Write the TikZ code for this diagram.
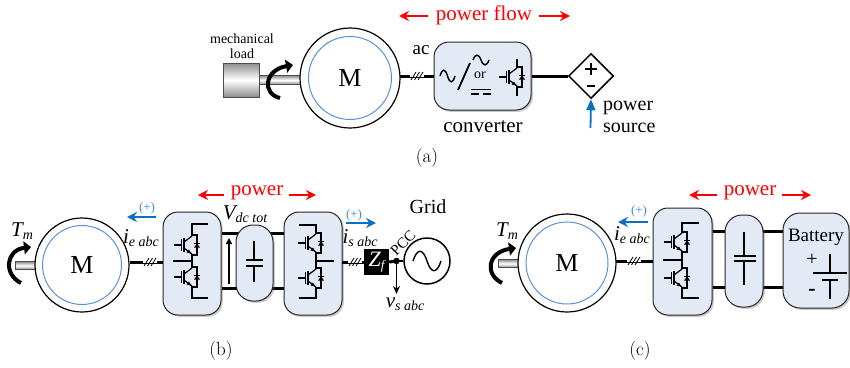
\documentclass[tikz,border=0pt]{standalone}
\usepackage{fontspec}
\newfontfamily\tms{Liberation Serif}
\usetikzlibrary{arrows.meta,shadows,shapes.geometric}
\definecolor{boxfill}{HTML}{E3EAF6}
\definecolor{innerblue}{HTML}{5A92DA}
\definecolor{flowblue}{HTML}{0A70C0}
\definecolor{plusblue}{HTML}{3A90D8}
\newcommand{\fsz}[1]{\fontsize{#1}{#1}\selectfont}
\newcommand{\lbl}[2]{{\tms\fsz{21}\itshape #1\raisebox{-3.5pt}{\fsz{14}#2}}}
\newcommand{\sinewave}[4]{\draw[line width=#4,shift={#1},x=#2,y=-#3] (-1,0) .. controls (-.7,-1.3) and (-.3,-1.3) .. (0,0) .. controls (.3,1.3) and (.7,1.3) .. (1,0);}
\newcommand{\igbtsym}[1]{%
  \begin{scope}[shift={#1},line width=1.2pt]
    \draw (-18,0) -- (-10.5,0);
    \draw (-10.5,-6) -- (-10.5,6);
    \draw[line width=1.6pt] (-8,-7) -- (-8,7);
    \draw (-8,-3) -- (0,-9);
    \draw (-8,3) -- (0,9);
    \fill (-1,8.5) -- (-5.5,7.5) -- (-3,4.5) -- cycle;
    \draw (0,-10) -- (5,-10) -- (5,10) -- (0,10);
    \fill (2,2.5) -- (8,2.5) -- (5,-1.5) -- cycle;
    \draw (2,-1.5) -- (8,-1.5);
  \end{scope}}
\newcommand{\slashes}[1]{%
  \begin{scope}[shift={#1},line width=.8pt]
    \fill[white] (-7,-1) rectangle (7,1);
    \draw (-6,4) -- (-1,-4); \draw (-2.5,4) -- (2.5,-4); \draw (1,4) -- (6,-4);
  \end{scope}}
\tikzset{
  x=1pt,y=-1pt,
  softbox/.style={draw=black!85,line width=1pt,fill=boxfill,inner sep=0pt,
    drop shadow={shadow xshift=1.8pt,shadow yshift=-1.8pt,opacity=.35,fill=black!60}},
  conv/.style={softbox,rounded corners=15pt,minimum width=#1},
  outerm/.style={circle,draw,line width=1.2pt,fill=white,inner sep=0pt,minimum size=#1},
  innerm/.style={circle,draw=innerblue,line width=1pt,inner sep=0pt,minimum size=#1,font=\tms\fsz{26}},
  wire/.style={line width=3pt},
  thinw/.style={line width=1.2pt},
  redarrow/.style={red,line width=1.2pt,-{Stealth[length=10pt,width=10pt]}},
  bluearrow/.style={flowblue,line width=1.4pt,-{Stealth[length=10pt,width=10pt]}},
  torque/.style={line width=4pt,-{Triangle[length=7pt,width=13pt]}},
  shaftbar/.style={draw=black!70,line width=.5pt,top color=black!45,bottom color=black!45,middle color=white,inner sep=0pt},
  txt/.style={font=\tms\fsz{#1},inner sep=0pt},
  captxt/.style={font=\fsz{19},inner sep=0pt},
  plusn/.style={font=\tms\fsz{13},text=plusblue,inner sep=0pt},
}
\begin{document}
\begin{tikzpicture}
\useasboundingbox (0,0) rectangle (850,367);

% ---------- (a)
\node[shaftbar,minimum width=42pt,minimum height=9pt] (shaftA) at (280,80) {};
\node[shaftbar,minimum width=36pt,minimum height=34pt] (load) at (241,80) {};
\node[outerm=100pt] (motA) at (350,78) {};
\node[innerm=83pt] (motAi) at (350,78) {M};
\draw[torque] (280,98) .. controls (262,94) and (264,70) .. (293,65);
\node[txt=14,align=center] (loadt) at (242,46.5) {mechanical\\[1pt]load};
\node[txt=19] (ac) at (421,50) {ac};
\node[conv=97pt,minimum height=68pt] (convA) at (482.5,76) {};
\coordinate (wA) at (400,76);
\draw[wire] (wA) -- (wA -| convA.west);
\slashes{(417,76)}
\node[diamond,draw,line width=1.5pt,fill=white,minimum width=45pt,minimum height=45pt,inner sep=0pt] (src) at (591,76) {};
\draw[wire] (convA.east) -- (src.west);
\draw[line width=2pt] (585,69) -- (597,69) (591,63) -- (591,75);
\draw[line width=2pt] (587,86) -- (595,86);
\coordinate (srcin) at (590.5,128);
\draw[flowblue,line width=1.8pt,-{Triangle[length=11pt,width=9pt]}] (srcin) -- (src.south);
\node[txt=20,align=left,anchor=west] (srct) at (603,117) {power\\[2pt]source};
\node[txt=21] (convt) at (483,127) {converter};
\node[txt=21,text=red] (pf) at (484,15) {power flow};
\coordinate (pfl) at (399,16); \coordinate (pfr) at (570,16);
\draw[redarrow] (pf.west) ++(-8,1) -- (pfl);
\draw[redarrow] (pf.east) ++(7,1) -- (pfr);
\sinewave{(447.5,76)}{7.5pt}{6pt}{1.4pt}
\draw[line width=1.8pt] (458,90) -- (470,63);
\sinewave{(481,60)}{8pt}{5pt}{1.4pt}
\node[txt=14] (ortxt) at (480,75) {or};
\draw[line width=1.4pt] (471,89.5) -- (491,89.5);
\draw[line width=1.4pt] (471,94) -- (479,94) (483,94) -- (491,94);
\igbtsym{(517,77)}
\draw[line width=1.2pt] (517,59) -- (517,68) (517,86) -- (517,96);
\node[captxt] (capa) at (427,158) {(a)};

% ---------- (b)
\node[shaftbar,minimum width=22pt,minimum height=8pt] (shaftB) at (26,265.5) {};
\node[outerm=94pt] (motB) at (82,265) {};
\node[innerm=79pt] (motBi) at (82,265) {M};
\draw[torque] (21,283) .. controls (3,274) and (6,250) .. (31,247);
\node[inner sep=0pt] (Tb) at (22,231) {\lbl{T}{m}};
\node[conv=58pt,minimum height=103pt] (b1) at (192,263.5) {};
\coordinate (wB) at (130,262);
\draw[wire] (wB) -- (wB -| b1.west);
\slashes{(150,262)}
\igbtsym{(192,245)}\igbtsym{(192,277)}
\draw[thinw] (208,224) -- (192,224) -- (192,236);
\draw[thinw] (192,254) -- (192,268);
\draw[thinw] (192,286) -- (192,298) -- (208,298);
\draw[thinw] (173,261) -- (192,261);
\node[inner sep=0pt] (ieb) at (141,238) {\lbl{i}{e abc}};
\coordinate (ibs) at (156,217); \coordinate (ibe) at (127,217);
\draw[bluearrow] (ibs) -- (ibe);
\node[plusn] (pb1) at (147,208) {(+)};
\node[txt=21,text=red] (pb) at (257,193) {power};
\coordinate (pbl) at (198,195); \coordinate (pbr) at (316,195);
\draw[redarrow] (pb.west) ++(-7,2) -- (pbl);
\draw[redarrow] (pb.east) ++(6,2) -- (pbr);
\foreach \yy/\nm in {233/t,288/b}{
  \coordinate (m\nm) at (254,\yy);
  \draw[wire] (m\nm -| b1.east) -- (m\nm -| 284,0);
}
\node[conv=37pt,minimum height=76pt,rounded corners=17pt] (bc) at (254.5,263) {};
\node[conv=58pt,minimum height=103pt] (b2) at (313,263.5) {};
\coordinate (vb) at (229,284); \coordinate (vt) at (229,238);
\draw[line width=1.4pt,-{Triangle[length=6pt,width=6pt]}] (vb) -- (vt);
\node[inner sep=0pt] (vdc) at (245,214) {\lbl{V}{dc tot}};
\draw[thinw] (254,241) -- (254,260) (246,260) -- (263,260) (246,266) -- (263,266) (254,266) -- (254,282);
\igbtsym{(316,243)}\igbtsym{(316,278)}
\draw[thinw] (299,225) -- (316,225) -- (316,234);
\draw[thinw] (316,252) -- (316,269);
\draw[thinw] (316,287) -- (316,298) -- (299,298);
\draw[thinw] (316,261) -- (334,261);
\node[fill=black,text=white,minimum width=25pt,minimum height=26pt,inner sep=0pt,font=\tms\fsz{22}] (zf) at (376.5,262) {\itshape Z\raisebox{-3pt}{\fsz{13}f}};
\coordinate (wz) at (342,262);
\draw[wire] (wz) -- (wz -| zf.west);
\slashes{(355,262)}
\node[circle,draw,line width=1.5pt,fill=white,minimum size=46pt,inner sep=0pt] (grid) at (427,261) {};
\sinewave{(427,261)}{14pt}{10pt}{1.4pt}
\node[circle,fill=black,minimum size=6.5pt,inner sep=0pt] (pcc) at (396.5,261) {};
\draw[wire] (zf.east) -- (pcc.center);
\draw[line width=2pt] (pcc.center) -- (grid.west);
\coordinate (vsb) at (396.5,294);
\draw[line width=1.2pt,-{Stealth[length=8pt,width=7pt]}] (pcc.center) -- (vsb);
\node[inner sep=0pt] (vs) at (405,304) {\lbl{v}{s abc}};
\node[txt=15,rotate=45] (pcct) at (403,243) {PCC};
\node[txt=20] (gridt) at (428,207) {Grid};
\node[inner sep=0pt] (isb) at (360,238) {\lbl{i}{s abc}};
\coordinate (isa) at (346,223); \coordinate (isc) at (376,223);
\draw[bluearrow] (isa) -- (isc);
\node[plusn] (pb2) at (354,215) {(+)};
\node[captxt] (capb) at (221,351) {(b)};

% ---------- (c)
\node[shaftbar,minimum width=22pt,minimum height=8pt] (shaftC) at (509,263.5) {};
\node[outerm=98pt] (motC) at (567,263) {};
\node[innerm=82pt] (motCi) at (567,263) {M};
\draw[torque] (502,283) .. controls (484,274) and (488,252) .. (516,248);
\node[inner sep=0pt] (Tc) at (507,231) {\lbl{T}{m}};
\node[conv=59pt,minimum height=107pt] (c1) at (682.5,261.5) {};
\coordinate (wC) at (616,261);
\draw[wire] (wC) -- (wC -| c1.west);
\slashes{(634,261)}
\igbtsym{(682,242)}\igbtsym{(682,278)}
\draw[thinw] (699,223) -- (682,223) -- (682,233);
\draw[thinw] (682,251) -- (682,269);
\draw[thinw] (682,287) -- (682,298) -- (699,298);
\draw[thinw] (663,260) -- (682,260);
\node[inner sep=0pt] (iec) at (632,235) {\lbl{i}{e abc}};
\coordinate (ics) at (648,222); \coordinate (ice) at (618,222);
\draw[bluearrow] (ics) -- (ice);
\node[plusn] (pc1) at (639,211) {(+)};
\foreach \yy/\nm in {231/t,287/b}{
  \coordinate (n\nm) at (744,\yy);
  \draw[wire] (n\nm -| c1.east) -- (n\nm -| 783,0);
}
\node[conv=38pt,minimum height=92pt,rounded corners=17pt] (cc) at (744,261) {};
\node[conv=66pt,minimum height=95pt,rounded corners=17pt] (bat) at (816,260.5) {};
\draw[thinw] (744,232) -- (744,256) (734,256) -- (756,256) (734,261) -- (756,261) (744,261) -- (744,285);
\node[txt=19] (batt) at (816,237) {Battery};
\node[txt=20] (bp) at (812,260) {+};
\node[txt=20,font=\tms\bfseries\fsz{22}] (bm) at (812,292) {-};
\draw[line width=1.4pt] (830,254) -- (830,273) (813,273) -- (847,273) (822,280) -- (838,280) (830,280) -- (830,299);
\node[txt=21,text=red] (pc) at (750,193) {power};
\coordinate (pcl) at (689,195); \coordinate (pcr) at (811,195);
\draw[redarrow] (pc.west) ++(-7,2) -- (pcl);
\draw[redarrow] (pc.east) ++(6,2) -- (pcr);
\node[captxt] (capc) at (640,351) {(c)};
\end{tikzpicture}
\end{document}
